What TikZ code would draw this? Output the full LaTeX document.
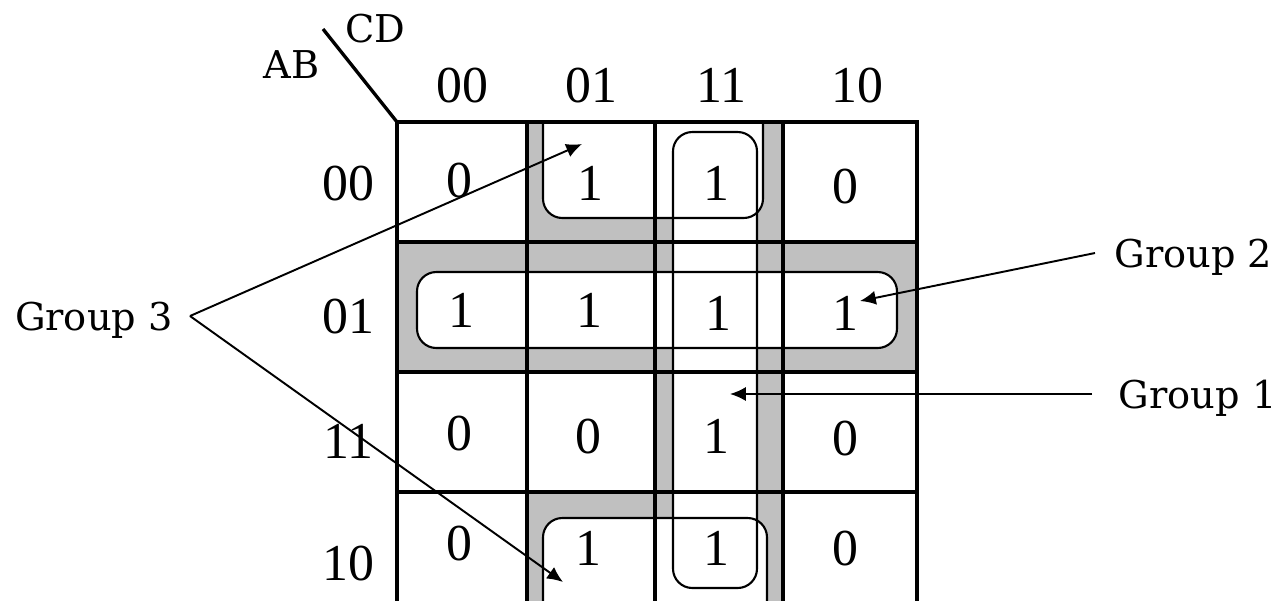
\documentclass[tikz,border=0pt]{standalone}
\usepackage{fontspec}
\setmainfont{Liberation Serif}
\newfontfamily\lblfont{DejaVu Serif}
\usepackage{tikz}
\usetikzlibrary{arrows.meta}
\definecolor{kgray}{HTML}{C0C0C0}

\begin{document}
\begin{tikzpicture}[x=0.02cm,y=-0.02cm,>={Latex[length=9pt,width=8pt]},
 grid/.style={line width=1.9pt},
 loop/.style={line width=1.2pt,rounded corners=11pt},
 hole/.style={fill=white,rounded corners=11pt},
 v/.style={anchor=base,inner sep=0pt,font=\fontsize{29.5}{31}\selectfont},
 lbl/.style={font=\lblfont\fontsize{21.8}{24}\selectfont,inner ysep=0pt,text depth=0pt},
 ar/.style={->,line width=1.1pt}]
 \useasboundingbox (0,0) rectangle (1279,600);
 \clip (0,0) rectangle (1279,600);
 % shaded cells of the three groups
 \fill[kgray] (397,242) rectangle (917,372);
 \fill[kgray] (655,122) rectangle (783,612);
 \fill[kgray] (527,122) rectangle (783,242);
 \fill[kgray] (527,492) rectangle (783,612);
 % inside of the loops
 \fill[hole] (417,272) rectangle (897,348);
 \fill[hole] (673,132) rectangle (757,588);
 \fill[hole] (543,110) -- (543,218) -- (763,218) -- (763,110);
 \fill[hole] (543,625) -- (543,518) -- (767,518) -- (767,625);
 % map grid
 \draw[grid] (397,122) rectangle (917,612);
 \foreach \x in {527,655,783} \draw[grid] (\x,122) -- (\x,612);
 \foreach \y in {242,372,492} \draw[grid] (397,\y) -- (917,\y);
 \coordinate (corner) at (397,122);
 \draw[grid] (323,29) -- (corner);
 % loops
 \draw[loop] (417,272) rectangle (897,348);
 \draw[loop] (673,132) rectangle (757,588);
 \draw[loop] (543,122) -- (543,218) -- (763,218) -- (763,122);
 \draw[loop] (543,612) -- (543,518) -- (767,518) -- (767,612);
 % headings
 \node[lbl,inner xsep=0pt,anchor=base west] (ab) at (263,78) {AB};
 \node[lbl,inner xsep=0pt,anchor=base west] (cd) at (345,42) {CD};
 \foreach \t/\x in {00/462,01/591,11/721,10/857} \node[v] (col\t) at (\x,102) {\t};
 \foreach \t/\y in {00/200,01/333,11/458,10/580} \node[v] (row\t) at (348,\y) {\t};
 % cell values
 \foreach \b/\x/\y [count=\i] in {0/459/197,1/590/200,1/716/200,0/845/203,
  1/461/327,1/589/327,1/718/330,1/845/330,
  0/459/450,0/588/453,1/716/453,0/845/455,
  0/459/560,1/588/565,1/716/565,0/845/565}
  \node[v] (m\i) at (\x,\y) {\b};
 % group labels
 \node[lbl,inner xsep=9.6pt,anchor=east] (g3) at (190,316) {Group 3};
 \node[lbl,inner xsep=11pt,anchor=west] (g2) at (1095,253) {Group 2};
 \node[lbl,inner xsep=15pt,anchor=west] (g1) at (1092,394) {Group 1};
 \coordinate (t3a) at (582,144);
 \coordinate (t3b) at (563,582);
 \coordinate (t2) at (860,301);
 \coordinate (t1) at (730,394);
 \draw[ar] (g3.east) -- (t3a);
 \draw[ar] (g3.east) -- (t3b);
 \draw[ar] (g2.west) -- (t2);
 \draw[ar] (g1.west) -- (t1);
\end{tikzpicture}
\end{document}
